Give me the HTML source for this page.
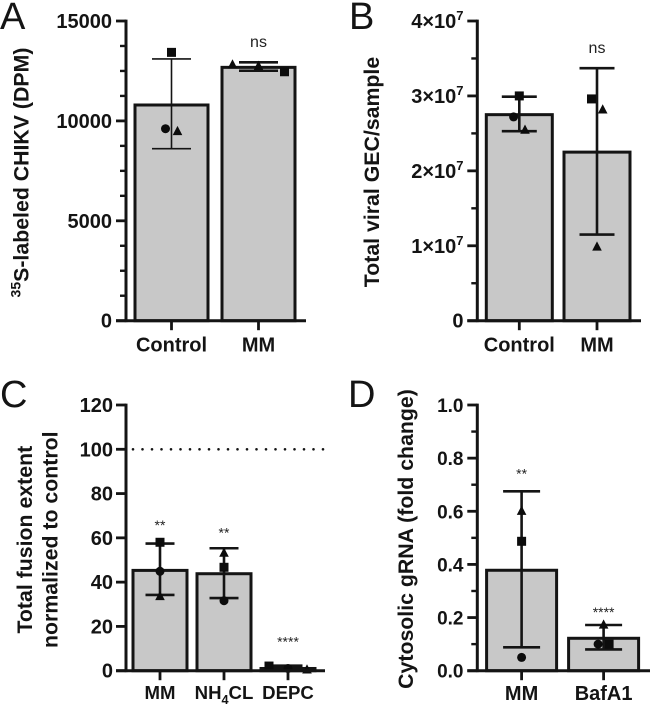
<!DOCTYPE html>
<html lang="en">
<head>
<meta charset="utf-8">
<title>CHIKV bar charts</title>
<style>
html,body{margin:0;padding:0;background:#fff;}
svg{display:block;filter:blur(0.35px);}
text{font-family:"Liberation Sans",sans-serif;fill:#141414;}
.tick{font-weight:bold;font-size:20px;}
.title{font-weight:bold;font-size:21.3px;}
.letter{font-size:38px;}
.sig{font-size:16px;fill:#222;}
.stars{font-size:14px;fill:#222;}
</style>
</head>
<body>
<svg id="figure" xmlns="http://www.w3.org/2000/svg" width="650" height="705" viewBox="0 0 650 705">
  <text class="letter" x="0" y="29">A</text>
  <text class="letter" x="349" y="29">B</text>
  <text class="letter" x="0" y="407">C</text>
  <text class="letter" x="348" y="407">D</text>
  <text class="title" transform="translate(28.5,172.5) rotate(-90)" text-anchor="middle"><tspan font-size="14" dy="-8">35</tspan><tspan dy="8">S-labeled CHIKV (DPM)</tspan></text>
  <text class="title" transform="translate(379,172) rotate(-90)" text-anchor="middle">Total viral GEC/sample</text>
  <text class="title" transform="translate(32,539.7) rotate(-90)" text-anchor="middle">Total fusion extent</text>
  <text class="title" transform="translate(57.3,539.7) rotate(-90)" text-anchor="middle">normalized to control</text>
  <text class="title" transform="translate(413,539) rotate(-90)" text-anchor="middle">Cytosolic gRNA (fold change)</text>
</svg>
<script>
// Panel A
const aCategories = ['Control', 'MM'];
const aMeans = [10796, 12680];
const aErrLow = [8610, 12510];
const aErrHigh = [13100, 12930];
const aCircle = [9610, null];
const aSquare = [13430, 12460];
const aTriangle = [9495, 12830];
const aTriangleAlt = [null, 12760];
const aTicks = [0, 5000, 10000, 15000];
const aTickLabels = ['0', '5000', '10000', '15000'];
const aSig = ['', 'ns'];
const aSigLevels = [0, 13700];

// Panel B
const bCategories = ['Control', 'MM'];
const bMeans = [2.75e7, 2.25e7];
const bErrLow = [2.53e7, 1.15e7];
const bErrHigh = [2.99e7, 3.37e7];
const bCircle = [2.72e7, null];
const bSquare = [3.0e7, 2.96e7];
const bTriangle = [2.55e7, 2.82e7];
const bTriangleAlt = [null, 0.99e7];
const bTicks = [0, 1e7, 2e7, 3e7, 4e7];
const bTickLabels = ['0', '1×10^7', '2×10^7', '3×10^7', '4×10^7'];
const bSig = ['', 'ns'];
const bSigLevels = [0, 3.57e7];

// Panel C
const cCategories = ['MM', 'NH_4CL', 'DEPC'];
const cMeans = [45.3, 43.8, 1];
const cErrLow = [34.2, 32.8, 0.3];
const cErrHigh = [57.4, 55.3, 2.2];
const cCircle = [44.9, 31.6, 1];
const cSquare = [58, 46.7, 2.1];
const cTriangle = [33.7, 53.3, 0.6];
const cTriangleAlt = [null, null, null];
const cTicks = [0, 20, 40, 60, 80, 100, 120];
const cTickLabels = ['0', '20', '40', '60', '80', '100', '120'];
const cSig = ['**', '**', '****'];
const cSigLevels = [63.5, 60.2, 11];
const cReference = 100;

// Panel D
const dCategories = ['MM', 'BafA1'];
const dMeans = [0.378, 0.122];
const dErrLow = [0.088, 0.08];
const dErrHigh = [0.675, 0.172];
const dCircle = [0.05, 0.1];
const dSquare = [0.487, 0.1];
const dTriangle = [0.602, 0.174];
const dTriangleAlt = [null, null];
const dTicks = [0, 0.2, 0.4, 0.6, 0.8, 1];
const dTickLabels = ['0.0', '0.2', '0.4', '0.6', '0.8', '1.0'];
const dSig = ['**', '****'];
const dSigLevels = [0.724, 0.202];

const NS = 'http://www.w3.org/2000/svg';
const svg = document.getElementById('figure');
const INK = '#141414';

function mk(tag, attrs, parent) {
  const n = document.createElementNS(NS, tag);
  for (const k in attrs) n.setAttribute(k, attrs[k]);
  (parent || svg).appendChild(n);
  return n;
}

function labelText(node, str, baseSize) {
  const sup = str.indexOf('^');
  const sub = str.indexOf('_');
  if (sup >= 0) {
    const a = mk('tspan', {}, node);
    a.textContent = str.slice(0, sup);
    const b = mk('tspan', {'font-size': 13, dy: -8}, node);
    b.textContent = str.slice(sup + 1);
  } else if (sub >= 0) {
    const a = mk('tspan', {}, node);
    a.textContent = str.slice(0, sub);
    const b = mk('tspan', {'font-size': baseSize * 0.68, dy: 5}, node);
    b.textContent = str.charAt(sub + 1);
    const c = mk('tspan', {dy: -5}, node);
    c.textContent = str.slice(sub + 2);
  } else {
    node.textContent = str;
  }
}

function drawPanel(p) {
  const prefix = 'panel-' + p.id + '-';
  const y = v => p.y0 - (v / p.max) * (p.y0 - p.yTop);
  const x = i => p.first + i * p.step;

  const g = mk('g', {});
  
  

  // bars
  p.means.forEach((m, i) => {
    const bar = mk('rect', {x: x(i) - p.barW / 2, y: y(m), width: p.barW, height: p.y0 - y(m), fill: '#c8c8c8', stroke: INK, 'stroke-width': 3}, g);
    
    
  });

  // reference line
  if (p.reference !== undefined) {
    const ref = mk('line', {x1: p.axisX + 7, x2: p.xEnd, y1: y(p.reference), y2: y(p.reference), stroke: INK, 'stroke-width': 2.6, 'stroke-linecap': 'round', 'stroke-dasharray': '0 9.5'}, g);
    
    
  }

  // error bars
  p.means.forEach((m, i) => {
    const w = p.errW[i];
    const segs = [[x(i), p.errHigh[i], x(i), p.errLow[i]],
                  [x(i) - p.capW, p.errHigh[i], x(i) + p.capW, p.errHigh[i]],
                  [x(i) - p.capW, p.errLow[i], x(i) + p.capW, p.errLow[i]]];
    segs.forEach(s => {
      const e = mk('line', {x1: s[0], x2: s[2], y1: y(s[1]), y2: y(s[3]), stroke: INK, 'stroke-width': w}, g);
      
      
    });
  });

  // points
  const r = p.marker;
  p.circle.forEach((v, i) => {
    if (v === null) return;
    const c = mk('circle', {cx: x(i) + p.jitter.circle[i], cy: y(v), r: r, fill: '#0c0c0c'}, g);
    
    
  });
  p.square.forEach((v, i) => {
    const cx = x(i) + p.jitter.square[i];
    const s = mk('rect', {x: cx - r, y: y(v) - r, width: 2 * r, height: 2 * r, fill: '#0c0c0c'}, g);
    
    
  });
  const drawTriangle = (v, i, off) => {
    if (v === null) return;
    const cx = x(i) + off;
    const cy = y(v);
    const pts = [cx, cy - r - 0.6, cx + r + 0.3, cy + r - 0.4, cx - r - 0.3, cy + r - 0.4].join(' ');
    const t = mk('polygon', {points: pts, fill: '#0c0c0c'}, g);
    
    
  };
  p.triangle.forEach((v, i) => drawTriangle(v, i, p.jitter.triangle[i]));
  p.triangleAlt.forEach((v, i) => drawTriangle(v, i, 0));

  // axes
  const yAxis = mk('line', {x1: p.axisX, x2: p.axisX, y1: p.yTop - 1.4, y2: p.y0 + 1.4, stroke: INK, 'stroke-width': 3}, g);
  
  
  const xAxis = mk('line', {x1: p.axisX - 10, x2: p.xEnd, y1: p.y0, y2: p.y0, stroke: INK, 'stroke-width': 3}, g);
  
  

  // y ticks
  p.ticks.forEach((v, i) => {
    const t = mk('line', {x1: p.axisX - 10, x2: p.axisX, y1: y(v), y2: y(v), stroke: INK, 'stroke-width': 2.8}, g);
    
    
    const l = mk('text', {class: 'tick', x: p.labelX, y: y(v) + 7, 'text-anchor': 'end', style: 'font-size:' + p.tickSize + 'px'}, g);
    labelText(l, p.tickLabels[i], p.tickSize);
    
    
    if (i < p.ticks.length - 1 && p.minorPerMajor > 1) {
      for (let k = 1; k < p.minorPerMajor; k++) {
        const mv = v + (p.ticks[i + 1] - v) * k / p.minorPerMajor;
        const mt = mk('line', {x1: p.axisX - 6, x2: p.axisX, y1: y(mv), y2: y(mv), stroke: INK, 'stroke-width': 2.4}, g);
        
        
      }
    }
  });

  // x ticks and labels
  p.categories.forEach((c, i) => {
    const t = mk('line', {x1: x(i), x2: x(i), y1: p.y0, y2: p.y0 + 9.5, stroke: INK, 'stroke-width': 2.8}, g);
    
    
    const l = mk('text', {class: 'tick', x: x(i), y: p.xLabelY, 'text-anchor': 'middle', style: 'font-size:' + p.xLabelSize + 'px'}, g);
    labelText(l, c, p.xLabelSize);
    
    
  });

  // significance labels
  p.sig.forEach((s, i) => {
    if (!s) return;
    const l = mk('text', {class: s === 'ns' ? 'sig' : 'stars', x: x(i), y: y(p.sigLevels[i]), 'text-anchor': 'middle'}, g);
    l.textContent = s;
    
    
  });
}

drawPanel({id: 'a', y0: 320.7, yTop: 21, max: 15000, axisX: 126, xEnd: 306, labelX: 112, first: 171.5, step: 87, barW: 73, capW: 19.5, errW: [1.6, 2.6], marker: 4.5, minorPerMajor: 4, tickSize: 20, xLabelY: 351.5, xLabelSize: 20,
  categories: aCategories, means: aMeans, errLow: aErrLow, errHigh: aErrHigh, circle: aCircle, square: aSquare, triangle: aTriangle, triangleAlt: aTriangleAlt, ticks: aTicks, tickLabels: aTickLabels, sig: aSig, sigLevels: aSigLevels,
  jitter: {circle: [-6, 0], square: [0, 26], triangle: [6, -26]}});

drawPanel({id: 'b', y0: 320.7, yTop: 21, max: 4e7, axisX: 477.3, xEnd: 641, labelX: 463.5, first: 519.3, step: 77.7, barW: 66, capW: 17.5, errW: [2.6, 2.6], marker: 4.5, minorPerMajor: 2, tickSize: 20, xLabelY: 351.5, xLabelSize: 20,
  categories: bCategories, means: bMeans, errLow: bErrLow, errHigh: bErrHigh, circle: bCircle, square: bSquare, triangle: bTriangle, triangleAlt: bTriangleAlt, ticks: bTicks, tickLabels: bTickLabels, sig: bSig, sigLevels: bSigLevels,
  jitter: {circle: [-5.7, 0], square: [0, -5.5], triangle: [5.7, 5.7]}});

drawPanel({id: 'c', y0: 670.7, yTop: 405, max: 120, axisX: 126, xEnd: 325, labelX: 113, first: 160, step: 64, barW: 54, capW: 14.5, errW: [2.6, 2.6, 3], marker: 4.5, minorPerMajor: 1, tickSize: 20, xLabelY: 699, xLabelSize: 18.6, reference: cReference,
  categories: cCategories, means: cMeans, errLow: cErrLow, errHigh: cErrHigh, circle: cCircle, square: cSquare, triangle: cTriangle, triangleAlt: cTriangleAlt, ticks: cTicks, tickLabels: cTickLabels, sig: cSig, sigLevels: cSigLevels,
  jitter: {circle: [0, 0, 0], square: [0, 0, -19], triangle: [0, 0, 19]}});

drawPanel({id: 'd', y0: 670.7, yTop: 405, max: 1, axisX: 477.3, xEnd: 650, labelX: 463.5, first: 521.6, step: 82, barW: 70, capW: 18.5, errW: [2.6, 2.6], marker: 4.5, minorPerMajor: 2, tickSize: 19, xLabelY: 700, xLabelSize: 20,
  categories: dCategories, means: dMeans, errLow: dErrLow, errHigh: dErrHigh, circle: dCircle, square: dSquare, triangle: dTriangle, triangleAlt: dTriangleAlt, ticks: dTicks, tickLabels: dTickLabels, sig: dSig, sigLevels: dSigLevels,
  jitter: {circle: [0, -5.5], square: [0, 5.5], triangle: [0, 0]}});
</script>
</body>
</html>
